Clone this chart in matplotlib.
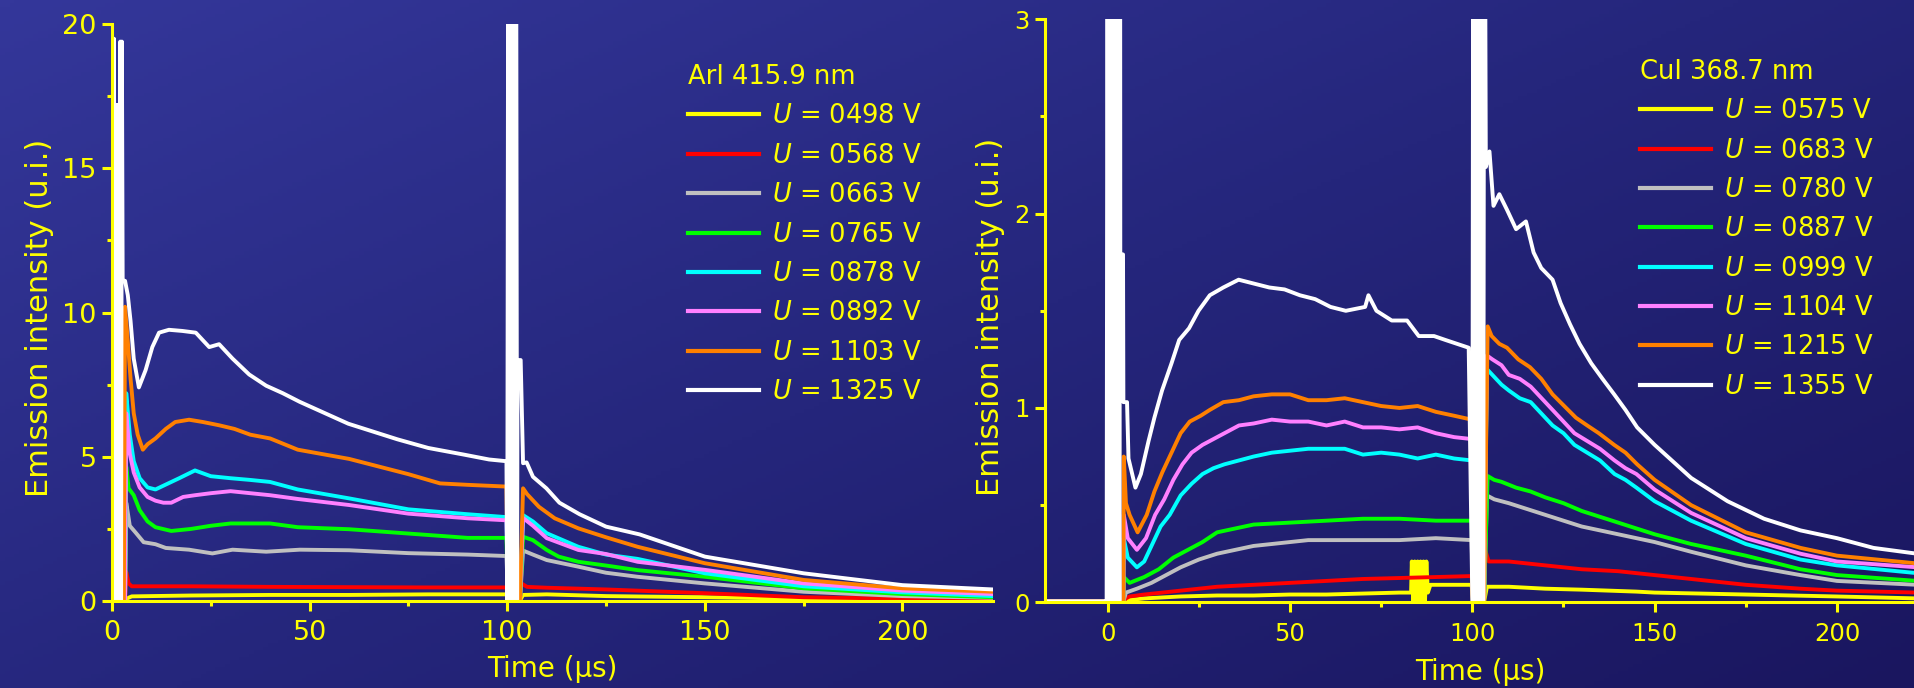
import numpy as np
import matplotlib
matplotlib.use("Agg")
import matplotlib.pyplot as plt
from matplotlib.colors import LinearSegmentedColormap
from matplotlib.ticker import MultipleLocator

# ---------------- ArI 415.9 nm (left panel) ----------------
ar_t_0498 = [0, 0.15, 0.3, 0.45, 0.6, 3.3, 5, 20, 40, 60, 80, 99.8, 100.2, 103.2, 104, 110, 125, 150, 175, 200, 223]
ar_v_0498 = [0, 19.5, 19.5, 0, 0.05, 0.05, 0.15, 0.18, 0.2, 0.2, 0.22, 0.22, 0, 0, 0.2, 0.22, 0.16, 0.12, 0.07, 0.04, 0.03]

ar_t_0568 = [0, 3.3, 3.6, 4.2, 5, 10, 20, 40, 60, 80, 99.8, 100.2, 103.2, 103.6, 105, 110, 125, 150, 175, 200, 223]
ar_v_0568 = [0, 0, 1.0, 0.6, 0.5, 0.5, 0.5, 0.48, 0.47, 0.46, 0.46, 0, 0, 0.6, 0.48, 0.45, 0.39, 0.26, 0.12, 0.07, 0.04]

ar_t_0663 = [0, 3.3, 3.6, 4.5, 6, 8, 11, 13.6, 19.5, 25.4, 30.5, 39, 47.5, 60, 75, 90, 99.8, 100.2, 103.2,
             104, 106.5, 110, 118, 125, 133, 150, 175, 200, 223]
ar_v_0663 = [0, 0, 3.4, 2.6, 2.36, 2.03, 1.96, 1.83, 1.77, 1.64, 1.77, 1.7, 1.77, 1.75, 1.65, 1.6, 1.55, 0, 0,
             1.74, 1.6, 1.41, 1.18, 0.97, 0.83, 0.6, 0.31, 0.16, 0.1]

ar_t_0765 = [0, 3.3, 3.6, 4.2, 5.5, 7, 9, 11, 15, 20, 25, 30, 40, 47, 60, 75, 90, 99.8, 100.2, 103.2,
             104, 106.5, 110, 113, 118, 125, 133, 150, 175, 200, 223]
ar_v_0765 = [0, 0, 4.65, 3.9, 3.66, 3.14, 2.75, 2.55, 2.42, 2.49, 2.6, 2.68, 2.68, 2.55, 2.48, 2.33, 2.18, 2.18, 0, 0,
             2.22, 2.1, 1.76, 1.53, 1.35, 1.22, 1.06, 0.83, 0.43, 0.23, 0.12]

ar_t_0878 = [0, 3.3, 3.6, 4.5, 5.5, 7, 9, 11, 13, 17, 21, 25, 30, 35, 40, 47, 60, 75, 90, 99.8, 100.2, 103.2,
             104, 106.5, 110, 118, 125, 133, 150, 175, 200, 223]
ar_v_0878 = [0, 0, 7.2, 5.76, 4.84, 4.25, 3.93, 3.86, 3.99, 4.25, 4.52, 4.32, 4.25, 4.19, 4.12, 3.86, 3.55, 3.17, 3.0, 2.9, 0, 0,
             2.97, 2.75, 2.34, 1.87, 1.6, 1.45, 0.95, 0.5, 0.29, 0.16]

ar_t_0892 = [0, 3.3, 3.6, 4.5, 5.5, 7, 9, 11, 13, 15, 18, 21, 25, 30, 35, 40, 47, 60, 75, 90, 99.8, 100.2, 103.2,
             104, 106.5, 110, 118, 125, 133, 150, 175, 200, 223]
ar_v_0892 = [0, 0, 6.5, 5.1, 4.45, 3.93, 3.6, 3.47, 3.4, 3.4, 3.6, 3.66, 3.73, 3.8, 3.73, 3.66, 3.53, 3.32, 3.02, 2.86, 2.79, 0, 0,
             2.87, 2.6, 2.17, 1.76, 1.62, 1.35, 1.07, 0.6, 0.35, 0.23]

ar_t_1103 = [0, 3.0, 3.3, 4, 4.7, 5.5, 6.5, 7.8, 9, 11, 13.6, 16, 19.5, 23, 27, 31, 35, 40, 47, 60, 75, 83, 90, 99.8,
             100.2, 103.2, 104, 105, 108, 112, 118, 125, 133, 150, 175, 200, 223]
ar_v_1103 = [0, 0, 10.2, 9.0, 7.7, 6.5, 5.76, 5.24, 5.43, 5.63, 5.96, 6.2, 6.28, 6.2, 6.09, 5.96, 5.76, 5.63, 5.24, 4.92, 4.39, 4.07, 4.02, 3.96,
             0, 0, 3.9, 3.7, 3.26, 2.86, 2.51, 2.2, 1.87, 1.3, 0.72, 0.43, 0.31]

ar_t_1325 = [0, 0.3, 0.5, 0.7, 0.9, 1.1, 1.3, 1.5, 1.7, 1.9, 2.1, 2.3, 2.5, 2.7, 3.3, 4.0, 4.7, 5.5, 6.8, 8.5, 10.2,
             11.9, 14.4, 17.8, 21.2, 24.6, 27.1, 30.5, 34.7, 39, 43.2, 47.5, 59.8, 72.2, 80, 89, 95.4, 99.8,
             100.0, 100.25, 100.5, 100.75, 101.0, 101.25, 101.5, 101.75, 102.0, 102.25, 102.5,
             102.6, 103.4, 104, 104.9, 106.5, 109.9, 113.2, 118.3, 125, 133.5, 150, 175, 200, 223]
ar_v_1325 = [0, 0, 19.5, 0, 17.2, 0, 17.2, 0, 17.2, 0, 19.4, 0, 19.4, 11.1, 11.1, 10.6, 9.7, 8.4, 7.4, 8.0, 8.8,
             9.3, 9.4, 9.36, 9.3, 8.8, 8.9, 8.4, 7.85, 7.46, 7.2, 6.9, 6.14, 5.6, 5.3, 5.07, 4.9, 4.84,
             0, 25, 0, 25, 0, 25, 0, 25, 0, 25, 0,
             8.35, 8.35, 4.77, 4.8, 4.3, 3.9, 3.4, 3.0, 2.57, 2.3, 1.53, 0.95, 0.54, 0.39]

ar_volts = ["0498", "0568", "0663", "0765", "0878", "0892", "1103", "1325"]

# ---------------- CuI 368.7 nm (right panel) ----------------
cu_t_0575 = [-17.5, 4.3, 5, 10, 20, 30, 40, 50, 60, 70, 80, 83.2, 83.4, 83.8, 84.2, 84.6, 85.0, 85.4, 85.8, 86.2,
             86.6, 87.0, 87.4, 87.8, 88.5, 90, 99.8, 100.2, 103.2, 104, 110, 120, 130, 145, 150, 175, 200, 222]
cu_v_0575 = [0.005, 0.005, 0.01, 0.02, 0.03, 0.035, 0.035, 0.04, 0.04, 0.045, 0.05, 0.05, 0.21, 0.0, 0.21, 0.0, 0.21, 0.0, 0.21, 0.0,
             0.21, 0.0, 0.21, 0.05, 0.09, 0.09, 0.09, 0, 0, 0.08, 0.08, 0.07, 0.065, 0.055, 0.05, 0.04, 0.03, 0.02]

cu_t_0683 = [-17.5, 4.3, 5, 6, 10, 20, 30, 40, 50, 60, 70, 80, 90, 99.8, 100.2, 103.2, 103.5, 104.5, 110, 120,
             130, 140, 145, 150, 160, 175, 190, 200, 222]
cu_v_0683 = [0.005, 0.005, 0.02, 0.03, 0.04, 0.06, 0.08, 0.09, 0.1, 0.11, 0.12, 0.125, 0.13, 0.135, 0, 0, 0.27, 0.21, 0.21, 0.19,
             0.17, 0.16, 0.15, 0.14, 0.12, 0.09, 0.07, 0.06, 0.05]

cu_t_0780 = [-17.5, 4.3, 5, 8, 12, 16, 20, 25, 30, 35, 40, 45, 50, 55, 60, 70, 80, 90, 99.8, 100.2, 103.2,
             104, 106, 110, 115, 120, 125, 130, 135, 140, 145, 150, 160, 175, 190, 200, 222]
cu_v_0780 = [0.005, 0.005, 0.05, 0.07, 0.1, 0.14, 0.18, 0.22, 0.25, 0.27, 0.29, 0.3, 0.31, 0.32, 0.32, 0.32, 0.32, 0.33, 0.32, 0, 0,
             0.55, 0.53, 0.51, 0.48, 0.45, 0.42, 0.39, 0.37, 0.35, 0.33, 0.31, 0.26, 0.19, 0.14, 0.11, 0.09]

cu_t_0887 = [-17.5, 4.3, 4.4, 6, 10, 14, 18, 22, 26, 30, 35, 40, 50, 60, 70, 80, 90, 99.8, 100.2, 103.2,
             104.2, 106, 108, 112, 116, 120, 125, 130, 135, 140, 145, 150, 160, 175, 190, 200, 222]
cu_v_0887 = [0.005, 0.005, 0.13, 0.1, 0.13, 0.17, 0.23, 0.27, 0.31, 0.36, 0.38, 0.4, 0.41, 0.42, 0.43, 0.43, 0.42, 0.42, 0, 0,
             0.65, 0.63, 0.62, 0.59, 0.57, 0.54, 0.51, 0.47, 0.44, 0.41, 0.38, 0.35, 0.3, 0.24, 0.17, 0.14, 0.11]

cu_t_0999 = [-17.5, 4.3, 4.4, 5.5, 8, 10, 12, 14.5, 17, 20, 23, 26, 29, 32, 36, 40, 45, 50, 55, 60, 65, 70, 75,
             80, 85, 90, 95, 99.8, 100.2, 103.2, 104, 105.5, 108, 110, 113, 116, 119, 122, 125, 128, 131.5,
             135, 139, 142, 145, 150, 160, 175, 190, 200, 222]
cu_v_0999 = [0.005, 0.005, 0.33, 0.23, 0.18, 0.21, 0.29, 0.39, 0.45, 0.55, 0.61, 0.66, 0.69, 0.71, 0.73, 0.75, 0.77, 0.78, 0.79, 0.79, 0.79, 0.76, 0.77,
             0.76, 0.74, 0.76, 0.74, 0.73, 0, 0, 1.2, 1.17, 1.12, 1.09, 1.05, 1.03, 0.97, 0.91, 0.87, 0.81, 0.77,
             0.73, 0.66, 0.63, 0.59, 0.52, 0.42, 0.3, 0.22, 0.19, 0.15]

cu_t_1104 = [-17.5, 4.3, 4.4, 5.5, 8, 10.5, 13, 15.5, 18, 20.5, 23, 26, 29, 32, 36, 40, 45, 50, 55, 60, 65, 70, 75,
             80, 85, 90, 95, 99.8, 100.2, 103.2, 104, 105.5, 108, 110, 113, 116, 119, 122, 125, 128, 131.5,
             135, 139, 142, 145, 150, 160, 175, 190, 200, 222]
cu_v_1104 = [0.005, 0.005, 0.45, 0.33, 0.27, 0.33, 0.45, 0.53, 0.63, 0.71, 0.77, 0.81, 0.84, 0.87, 0.91, 0.92, 0.94, 0.93, 0.93, 0.91, 0.93, 0.9, 0.9,
             0.89, 0.9, 0.87, 0.85, 0.84, 0, 0, 1.27, 1.25, 1.22, 1.17, 1.15, 1.11, 1.05, 0.99, 0.93, 0.87, 0.83,
             0.79, 0.73, 0.69, 0.66, 0.58, 0.46, 0.33, 0.25, 0.21, 0.18]

cu_t_1215 = [-17.5, 4.3, 4.4, 5, 6, 8.2, 10.7, 12.8, 15, 17.5, 20, 22.5, 25.5, 28, 31.7, 36, 40, 45, 50, 55, 60,
             65, 70, 75, 80, 85, 90, 95, 99.8, 100.2, 103.2, 104.2, 105.3, 107.4, 109.5, 112.6, 115.8, 118.9,
             122, 125.2, 128.4, 131.5, 134.7, 138.9, 142, 145.2, 150, 160, 175, 190, 200, 222]
cu_v_1215 = [0.005, 0.005, 0.75, 0.51, 0.45, 0.36, 0.45, 0.57, 0.67, 0.77, 0.87, 0.93, 0.96, 0.99, 1.03, 1.04, 1.06, 1.07, 1.07, 1.04, 1.04,
             1.05, 1.03, 1.01, 1.0, 1.01, 0.98, 0.96, 0.94, 0, 0, 1.42, 1.37, 1.33, 1.31, 1.25, 1.21, 1.15,
             1.07, 1.01, 0.95, 0.91, 0.87, 0.81, 0.77, 0.71, 0.63, 0.5, 0.36, 0.28, 0.24, 0.2]

cu_t_1355 = [-17.5, -0.5, -0.3, -0.05, 0.2, 0.45, 0.7, 0.95, 1.2, 1.45, 1.7, 1.95, 2.2, 2.45, 2.7, 2.95, 3.2, 3.4,
             3.45, 4.2, 4.3, 5.3, 5.7, 7.6, 9.1, 11.2, 12.8, 14.9, 17.5, 19.6, 22.3, 24.9, 28, 31.7, 35.9, 40.1,
             44.3, 48.5, 52.7, 56.9, 61.1, 65.3, 70.6, 71.5, 73.7, 77.9, 82.1, 85.3, 89.5, 92.6, 95.8, 99.0,
             100.0, 100.25, 100.5, 100.75, 101.0, 101.25, 101.5, 101.75, 102.0, 102.25, 102.5, 102.75, 103.0, 103.25, 103.4,
             103.7, 104.7, 105.8, 107.4, 109.5, 112, 114.7, 116.8, 118.9, 122, 124.2, 126.8, 129.4, 132.6, 135.7,
             138.9, 142, 145.2, 150, 160, 170, 180, 190, 200, 210, 222]
cu_v_1355 = [0.005, 0.005, 0, 4, 0, 4, 0, 4, 0, 4, 0, 4, 0, 4, 0, 4, 0, 4,
             1.79, 1.79, 1.03, 1.03, 0.74, 0.59, 0.66, 0.83, 0.95, 1.09, 1.23, 1.35, 1.41, 1.5, 1.58, 1.62, 1.66, 1.64,
             1.62, 1.61, 1.58, 1.56, 1.52, 1.5, 1.52, 1.58, 1.5, 1.45, 1.45, 1.37, 1.37, 1.35, 1.33, 1.31,
             0, 4, 0, 4, 0, 4, 0, 4, 0, 4, 0, 4, 0, 4, 4,
             2.24, 2.32, 2.04, 2.1, 2.02, 1.92, 1.96, 1.8, 1.72, 1.66, 1.54, 1.43, 1.33, 1.23, 1.15,
             1.07, 0.99, 0.9, 0.81, 0.64, 0.52, 0.43, 0.37, 0.33, 0.28, 0.25]

cu_volts = ["0575", "0683", "0780", "0887", "0999", "1104", "1215", "1355"]

line_colors = ["#ffff00", "#ff0000", "#c0c0c0", "#00ff00", "#00ffff", "#ff80ff", "#ff8000", "#ffffff"]
YEL = "#ffff00"

ar_series = [(ar_t_0498, ar_v_0498), (ar_t_0568, ar_v_0568), (ar_t_0663, ar_v_0663), (ar_t_0765, ar_v_0765),
             (ar_t_0878, ar_v_0878), (ar_t_0892, ar_v_0892), (ar_t_1103, ar_v_1103), (ar_t_1325, ar_v_1325)]
cu_series = [(cu_t_0575, cu_v_0575), (cu_t_0683, cu_v_0683), (cu_t_0780, cu_v_0780), (cu_t_0887, cu_v_0887),
             (cu_t_0999, cu_v_0999), (cu_t_1104, cu_v_1104), (cu_t_1215, cu_v_1215), (cu_t_1355, cu_v_1355)]

plt.rcParams['font.family'] = ['DejaVu Sans']
plt.rcParams['mathtext.fontset'] = 'dejavusans'

W, H = 1915, 688
fig = plt.figure(figsize=(W / 100, H / 100), dpi=100)

# background gradient, lighter at the top left
bg = fig.add_axes([0, 0, 1, 1], zorder=-10)
yy, xx = np.mgrid[0:1:200j, 0:1:400j]
grad = 0.55 * xx + 0.45 * yy
cmap = LinearSegmentedColormap.from_list("bgblue", ["#34379a", "#25267c", "#1a165f"])
bg.imshow(grad, extent=[0, 1, 0, 1], aspect='auto', cmap=cmap, origin='upper')
bg.axis('off')


def style_axes(ax, labelsize):
    ax.set_facecolor('none')
    for side in ['top', 'right']:
        ax.spines[side].set_visible(False)
    for side in ['left', 'bottom']:
        ax.spines[side].set_color(YEL)
        ax.spines[side].set_linewidth(2.2)
    ax.tick_params(which='both', direction='out', color=YEL, width=2.2, labelcolor=YEL)
    ax.tick_params(which='major', length=7, labelsize=labelsize)
    ax.tick_params(which='minor', length=3.5)
    ax.tick_params(axis='x', pad=7)
    ax.tick_params(axis='y', pad=4)


def draw_panel(ax, series, volts, title):
    for (t, v), c in zip(series, line_colors):
        ax.plot(t, v, color=c, lw=2.8, solid_joinstyle='round')
    leg_lines = [plt.Line2D([], [], color=c, lw=3) for c in line_colors]
    leg = ax.legend(leg_lines, [f"$U$ = {u} V" for u in volts], title=title,
                    loc='upper left', frameon=False, fontsize=18.5, title_fontsize=18.5,
                    handlelength=2.75, handletextpad=0.5, labelspacing=0.52,
                    borderpad=0, borderaxespad=0, alignment='left')
    for txt in leg.get_texts():
        txt.set_color(YEL)
    leg.get_title().set_color(YEL)
    return leg


# left panel
axL = fig.add_axes([112 / W, (H - 600.7) / H, 881 / W, 576.4 / H])
style_axes(axL, 19.5)
legL = draw_panel(axL, ar_series, ar_volts, "ArI 415.9 nm")
legL.set_bbox_to_anchor((0.6538, 0.931), transform=axL.transAxes)
axL.set_xlim(0, 222.9)
axL.set_ylim(0, 20)
axL.xaxis.set_major_locator(MultipleLocator(50))
axL.xaxis.set_minor_locator(MultipleLocator(25))
axL.yaxis.set_major_locator(MultipleLocator(5))
axL.yaxis.set_minor_locator(MultipleLocator(2.5))
axL.set_xlabel("Time (\u03bcs)", color=YEL, fontsize=20)
axL.set_ylabel("Emission intensity (u.i.)", color=YEL, fontsize=22)
axL.yaxis.set_label_coords(-0.066, 0.49)
axL.xaxis.set_label_coords(0.5, -0.095)

# right panel
axR = fig.add_axes([1045 / W, (H - 602.3) / H, 870 / W, 583 / H])
style_axes(axR, 17.5)
legR = draw_panel(axR, cu_series, cu_volts, "CuI 368.7 nm")
legR.set_bbox_to_anchor((0.684, 0.932), transform=axR.transAxes)
axR.set_xlim(-17.2, 221.4)
axR.set_ylim(0, 3)
axR.xaxis.set_major_locator(MultipleLocator(50))
axR.xaxis.set_minor_locator(MultipleLocator(25))
axR.yaxis.set_major_locator(MultipleLocator(1))
axR.yaxis.set_minor_locator(MultipleLocator(0.5))
axR.set_xlabel("Time (\u03bcs)", color=YEL, fontsize=20)
axR.set_ylabel("Emission intensity (u.i.)", color=YEL, fontsize=22)
axR.yaxis.set_label_coords(-0.046, 0.49)
axR.xaxis.set_label_coords(0.5, -0.095)

fig.savefig("out.png", dpi=100)
